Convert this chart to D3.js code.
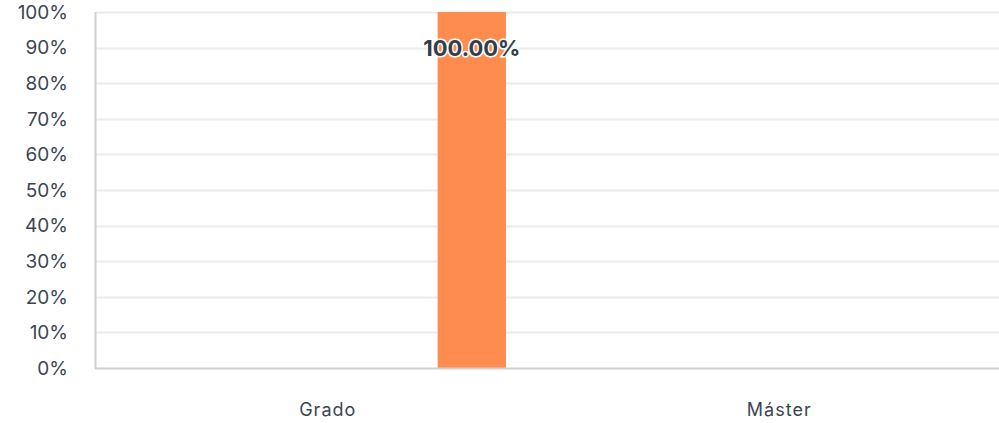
<!DOCTYPE html>
<html>
<head>
<meta charset="utf-8">
<script src="https://cdn.jsdelivr.net/npm/d3@7"></script>
<style>
  body { margin: 0; background: #fff; }
  svg text { font-family: "Inter", sans-serif; fill: #3b4552; }
</style>
</head>
<body>
<div id="chart"></div>
<script>
// chart data
var categories = ["Grado", "Máster"];
var values = [100, 0];
var yTicks = [0, 10, 20, 30, 40, 50, 60, 70, 80, 90, 100];
var slots = ["s1", "s2", "s3", "s4", "s5", "s6"];
var slotOf = ["s6", "s6"];

var width = 999, height = 423;
var margin = { top: 12, right: 0, bottom: 55, left: 96 };

var svg = d3.select("#chart")
            .append("svg")
            .attr("width", width)
            .attr("height", height);

var x = d3.scaleBand()
          .domain(categories)
          .range([margin.left, width - margin.right])
          .padding(0);

var xSub = d3.scaleBand()
             .domain(slots)
             .range([0, x.bandwidth() * 0.908])
             .padding(0);

var y = d3.scaleLinear()
          .domain([0, 100])
          .range([height - margin.bottom, margin.top]);

// gridlines
svg.append("g")
   .selectAll("line")
   .data(yTicks.filter(function(d) { return d > 0; }))
   .enter()
   .append("line")
   .attr("x1", margin.left)
   .attr("x2", width - margin.right)
   .attr("y1", function(d) { return Math.round(y(d)) + 0.5; })
   .attr("y2", function(d) { return Math.round(y(d)) + 0.5; })
   .style("stroke", "#ebebeb")
   .style("stroke-width", 2);

// y labels
svg.append("g")
   .selectAll("text")
   .data(yTicks)
   .enter()
   .append("text")
   .attr("x", 68)
   .attr("y", function(d) { return y(d); })
   .attr("dy", "0.36em")
   .attr("text-anchor", "end")
   .style("font-size", "19px")
   .text(function(d) { return d + "%"; });

// bars
svg.append("g")
   .selectAll("rect")
   .data(values)
   .enter()
   .append("rect")
   .attr("x", function(d, i) { return x(categories[i]) + xSub(slotOf[i]); })
   .attr("width", xSub.bandwidth())
   .attr("y", function(d) { return y(d); })
   .attr("height", function(d) { return y(0) - y(d); })
   .style("fill", "#ff8c4f");

// axes lines
svg.append("line")
   .attr("x1", margin.left - 0.5).attr("x2", margin.left - 0.5)
   .attr("y1", margin.top).attr("y2", y(0) + 1)
   .style("stroke", "#d0d0d0").style("stroke-width", 2);
svg.append("line")
   .attr("x1", margin.left - 1).attr("x2", width)
   .attr("y1", y(0) + 0.5).attr("y2", y(0) + 0.5)
   .style("stroke", "#d0d0d0").style("stroke-width", 2);

// data labels
svg.append("g")
   .selectAll("text")
   .data(values.map(function(v, i) { return { v: v, i: i }; }).filter(function(d) { return d.v > 0; }))
   .enter()
   .append("text")
   .attr("x", function(d) { return x(categories[d.i]) + xSub(slotOf[d.i]) + xSub.bandwidth() / 2; })
   .attr("y", function(d) { return y(d.v) + 44; })
   .attr("text-anchor", "middle")
   .style("font-size", "22px")
   .style("font-weight", "bold")
   .style("fill", "#333d48")
   .style("stroke", "#fff")
   .style("stroke-width", 3)
   .style("paint-order", "stroke")
   .text(function(d) { return d.v.toFixed(2) + "%"; });

// x labels
svg.append("g")
   .selectAll("text")
   .data(categories)
   .enter()
   .append("text")
   .attr("x", function(d) { return x(d) + x.bandwidth() / 2 + 6; })
   .attr("y", 416)
   .attr("text-anchor", "middle")
   .style("font-size", "18px")
   .style("letter-spacing", "1px")
   .text(function(d) { return d; });
</script>
</body>
</html>
